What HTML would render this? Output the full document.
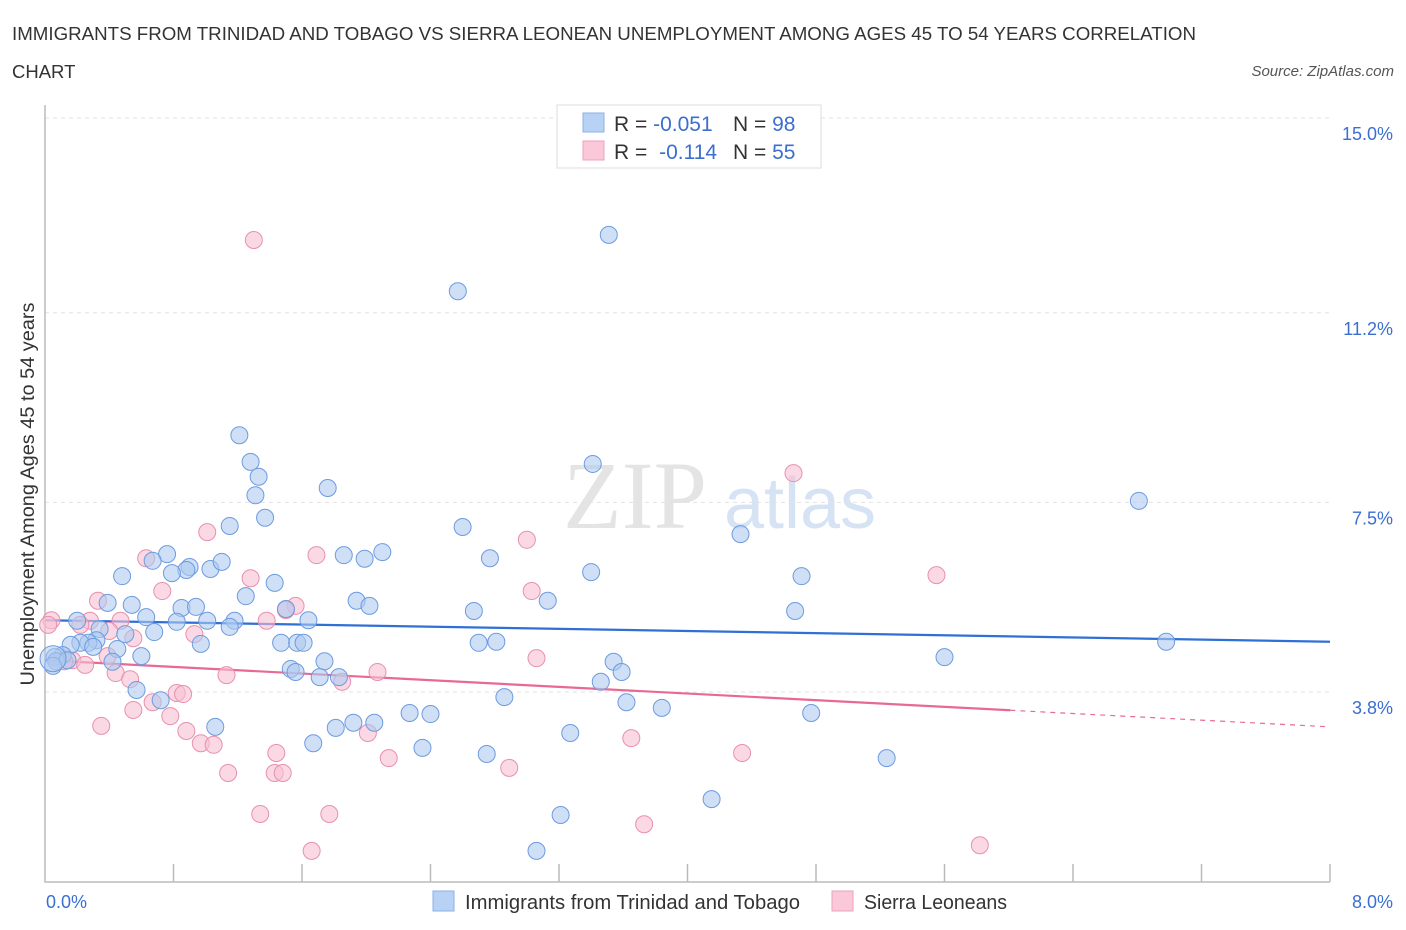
<!DOCTYPE html>
<html><head><meta charset="utf-8"><style>
body{margin:0;background:#fff;font-family:"Liberation Sans",sans-serif;}
svg{display:block}
</style></head><body>
<svg id="chart" width="1406" height="930" xmlns="http://www.w3.org/2000/svg">
<text x="12" y="40" font-size="18.5" fill="#333" textLength="1184" lengthAdjust="spacingAndGlyphs">IMMIGRANTS FROM TRINIDAD AND TOBAGO VS SIERRA LEONEAN UNEMPLOYMENT AMONG AGES 45 TO 54 YEARS CORRELATION</text>
<text x="12" y="78" font-size="18.5" fill="#333">CHART</text>
<text x="1394" y="76" font-size="15" font-style="italic" fill="#555" text-anchor="end">Source: ZipAtlas.com</text>
<text x="635" y="528" font-size="96" font-family="Liberation Serif,serif" fill="#e4e4e4" text-anchor="middle">ZIP</text>
<text x="800" y="528" font-size="72" fill="#d5e3f5" text-anchor="middle">atlas</text>
<g id="grid"></g>
<g id="axes"></g>
<g id="lines"></g>
<g id="pts"></g>
<text transform="translate(34,494) rotate(-90)" font-size="19" fill="#333" text-anchor="middle" textLength="383" lengthAdjust="spacingAndGlyphs">Unemployment Among Ages 45 to 54 years</text>
<text x="46" y="908" font-size="18" fill="#3a6fd0">0.0%</text>
<text x="1393" y="908" font-size="18" fill="#3a6fd0" text-anchor="end">8.0%</text>
<g>
<rect x="557" y="105" width="264" height="63" fill="#fff" stroke="#ddd"/>
<rect x="583" y="113" width="21" height="19" fill="#b8d2f5" stroke="#8ab0e8"/>
<rect x="583" y="141" width="21" height="19" fill="#fac8d8" stroke="#eea0bb"/>
<text x="614" y="131" font-size="21" fill="#333">R = <tspan fill="#3a6fd0">-0.051</tspan></text>
<text x="733" y="131" font-size="21" fill="#333">N = <tspan fill="#3a6fd0">98</tspan></text>
<text x="614" y="159" font-size="21" fill="#333">R = <tspan fill="#3a6fd0" dx="6">-0.114</tspan></text>
<text x="733" y="159" font-size="21" fill="#333">N = <tspan fill="#3a6fd0">55</tspan></text>
</g>
<g>
<rect x="433" y="891" width="21" height="20" fill="#b8d2f5" stroke="#8ab0e8"/>
<text x="465" y="909" font-size="20" fill="#333" textLength="335" lengthAdjust="spacingAndGlyphs">Immigrants from Trinidad and Tobago</text>
<rect x="832" y="891" width="21" height="20" fill="#fac8d8" stroke="#eea0bb"/>
<text x="864" y="909" font-size="20" fill="#333" textLength="143" lengthAdjust="spacingAndGlyphs">Sierra Leoneans</text>
</g>
</svg>
<script>
const yTicks=[3.8,7.5,11.2,15.0];
const yTickLabels=["3.8%","7.5%","11.2%","15.0%"];
const xTicks=[0,0.8,1.6,2.4,3.2,4.0,4.8,5.6,6.4,7.2,8.0];
const blueX=[3.51,2.57,1.21,1.28,1.33,1.31,1.76,3.41,6.81,1.37,1.15,2.60,4.33,0.76,0.67,0.90,0.88,1.03,1.10,0.79,0.48,1.86,1.99,2.10,2.77,3.40,4.71,1.43,1.25,0.39,0.54,1.94,2.02,3.13,2.67,4.67,0.85,0.94,0.63,0.82,1.01,1.18,1.50,1.64,1.15,0.20,0.34,0.50,0.68,0.32,0.27,0.22,0.16,0.30,0.45,0.97,1.47,1.57,1.61,2.70,2.81,6.98,5.60,0.11,0.06,0.07,0.14,0.05,0.42,0.60,1.74,3.54,1.53,1.56,3.59,1.71,1.83,3.46,0.57,0.72,2.86,3.62,3.84,4.77,2.27,2.40,1.92,2.05,1.06,1.81,3.27,1.67,2.35,2.75,5.24,4.15,3.21,3.06];
const blueY=[12.72,11.62,8.81,8.29,8.00,7.64,7.78,8.25,7.53,7.20,7.04,7.02,6.88,6.49,6.36,6.24,6.18,6.20,6.34,6.12,6.06,6.47,6.40,6.53,6.41,6.14,6.06,5.93,5.67,5.54,5.50,5.58,5.48,5.58,5.38,5.38,5.44,5.46,5.26,5.17,5.19,5.19,5.42,5.20,5.07,5.19,5.03,4.93,4.97,4.81,4.76,4.76,4.72,4.68,4.64,4.74,4.76,4.76,4.76,4.76,4.78,4.78,4.48,4.52,4.48,4.40,4.42,4.31,4.39,4.50,4.40,4.39,4.25,4.19,4.19,4.09,4.09,4.00,3.84,3.64,3.70,3.60,3.49,3.39,3.39,3.37,3.20,3.20,3.12,3.10,3.00,2.80,2.71,2.59,2.51,1.71,1.40,0.70];
const pinkX=[1.30,4.66,1.01,0.63,1.69,3.00,1.28,5.55,0.73,0.33,3.03,1.56,1.50,0.04,0.47,0.28,0.40,0.93,1.38,0.22,0.17,0.39,0.25,3.06,2.07,0.44,1.13,0.53,1.85,0.82,0.86,0.67,0.55,0.78,0.35,0.88,2.01,0.97,1.05,3.65,4.34,1.44,2.14,2.89,1.14,1.43,1.48,1.34,1.77,3.73,1.66,5.82,0.02,0.12,0.55];
const pinkY=[12.62,8.07,6.92,6.41,6.47,6.77,6.02,6.08,5.77,5.58,5.77,5.48,5.40,5.20,5.19,5.19,4.99,4.93,5.19,5.11,4.42,4.50,4.33,4.46,4.19,4.17,4.13,4.05,4.00,3.78,3.76,3.60,3.45,3.33,3.14,3.04,3.00,2.80,2.77,2.90,2.61,2.61,2.51,2.32,2.22,2.22,2.22,1.42,1.42,1.22,0.70,0.81,5.11,4.40,4.85];
const blueFit=[5.20,4.78];
const pinkFit=[4.42,3.12];
const pinkSolidEnd=6.01;
const NS="http://www.w3.org/2000/svg";
const X=v=>45+v/8*1285;
const Y=v=>692-(v-3.8)*51.25;
function mk(t,a,p){const e=document.createElementNS(NS,t);for(const k in a)e.setAttribute(k,a[k]);p.appendChild(e);return e;}
const grid=document.getElementById('grid'),axes=document.getElementById('axes'),lines=document.getElementById('lines'),pts=document.getElementById('pts');
yTicks.forEach((v,i)=>{
 const l=mk('line',{x1:45,x2:1330,y1:Y(v),y2:Y(v),stroke:'#e2e2e2','stroke-dasharray':'4,4'},grid);
 
 
 const t=mk('text',{x:1393,y:Y(v)+22,'font-size':18,fill:'#3a6fd0','text-anchor':'end'},axes);
 t.textContent=yTickLabels[i];
 
 
});
const ax=mk('path',{d:'M45,105V882H1330',fill:'none',stroke:'#bbb','stroke-width':1.5},axes);


xTicks.forEach(v=>{
 if(v===0)return;
 const t=mk('line',{x1:X(v),x2:X(v),y1:864,y2:882,stroke:'#bbb','stroke-width':1.5},axes);
 
 
});
function dots(xs,ys,fill,stroke,name){
 xs.forEach((x,i)=>{
  const c=mk('circle',{cx:X(x),cy:Y(ys[i]),r:8.5,fill:fill,stroke:stroke,'stroke-width':1,'fill-opacity':0.6},pts);
  
  
 });
}
dots(pinkX,pinkY,'#f8c0d2','#e890ad','point-sierra-leonean');
dots(blueX,blueY,'#aecaf0','#6d9be0','point-trinidad');
const big=mk('circle',{cx:X(0.05),cy:Y(4.45),r:13,fill:'#aecaf0','fill-opacity':0.5,stroke:'#6d9be0'},pts);


const fy=(f,x)=>f[0]+(f[1]-f[0])*x/8;
const bl=mk('line',{x1:X(0),y1:Y(fy(blueFit,0)),x2:X(8),y2:Y(fy(blueFit,8)),stroke:'#2f6fd6','stroke-width':2.2},lines);


const pl=mk('line',{x1:X(0),y1:Y(fy(pinkFit,0)),x2:X(pinkSolidEnd),y2:Y(fy(pinkFit,pinkSolidEnd)),stroke:'#e76a95','stroke-width':2.2},lines);


const pd=mk('line',{x1:X(pinkSolidEnd),y1:Y(fy(pinkFit,pinkSolidEnd)),x2:X(8),y2:Y(fy(pinkFit,8)),stroke:'#e76a95','stroke-width':1.2,'stroke-dasharray':'5,5'},lines);


</script>
</body></html>
